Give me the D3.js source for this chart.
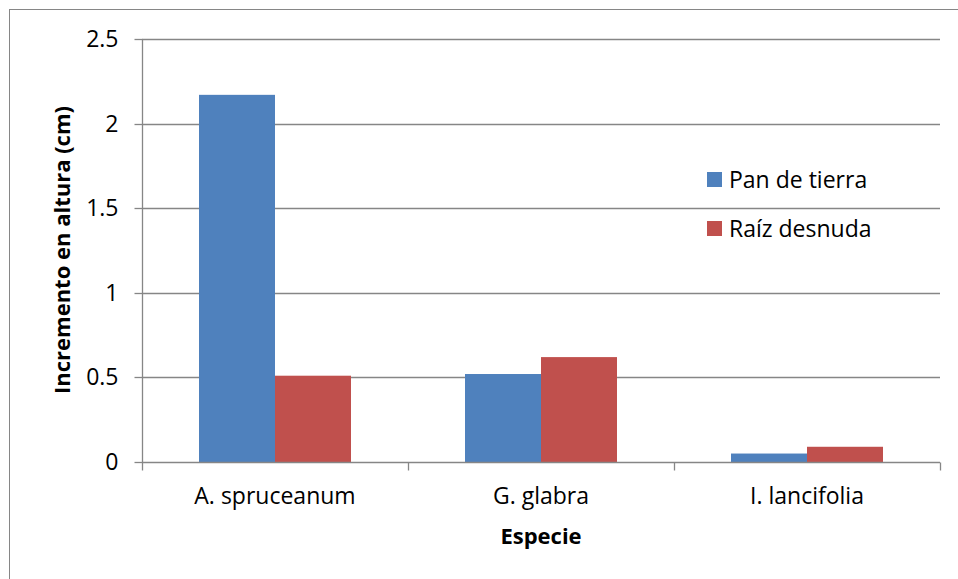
<!DOCTYPE html>
<html><head><meta charset="utf-8">
<script src="https://cdn.jsdelivr.net/npm/d3@7"></script>
<style>body{margin:0;background:#fff}svg{display:block}text{font-family:"Open Sans",sans-serif;fill:#000}</style>
</head><body>
<svg id="c" width="958" height="579"></svg>
<script>
const categories = ["A. spruceanum", "G. glabra", "I. lancifolia"];
const seriesNames = ["Pan de tierra", "Raíz desnuda"];
const panDeTierra = [2.17, 0.52, 0.05];
const raizDesnuda = [0.51, 0.62, 0.09];
const yTicks = [0, 0.5, 1, 1.5, 2, 2.5];
const colors = ["#4F81BD", "#C0504D"];

const svg = d3.select("#c");
const L = 142, R = 940, T = 39, B = 462;
const FS = "23px";

svg.append("rect").attr("x", 9.5).attr("y", 9.5).attr("width", 1000).attr("height", 1000)
  .attr("fill", "none").attr("stroke", "#868686").attr("stroke-width", 1);

const x = d3.scaleBand().domain(categories).range([L, R]).paddingInner(0).paddingOuter(0);
const xs = d3.scaleBand().domain(seriesNames).range([0, x.bandwidth()]).paddingInner(0).paddingOuter(0.75);
const y = d3.scaleLinear().domain([0, 2.5]).range([B, T]);

// gridlines
svg.append("g").selectAll("line").data(yTicks.filter(d => d > 0)).join("line")
  .attr("x1", L).attr("x2", R).attr("y1", d => Math.round(y(d)) + 0.5).attr("y2", d => Math.round(y(d)) + 0.5)
  .attr("stroke", "#868686").attr("stroke-width", 1.3);

// bars
const data = categories.map((c, i) => ({c, vals: [panDeTierra[i], raizDesnuda[i]]}));
const g = svg.append("g");
data.forEach(d => {
  d.vals.forEach((v, j) => {
    g.append("rect").attr("x", x(d.c) + xs(seriesNames[j])).attr("width", xs.bandwidth())
      .attr("y", y(v)).attr("height", B - y(v)).attr("fill", colors[j]);
  });
});

// y axis
const yAxis = d3.axisLeft(y).tickValues(yTicks).tickSize(8).tickPadding(16).tickFormat(d => String(d));
const ya = svg.append("g").attr("transform", `translate(${L + 0.5},0)`).call(yAxis);
ya.select(".domain").attr("stroke", "#868686").attr("stroke-width", 1.3).attr("d", `M0,${T}V${B}`);
ya.selectAll(".tick line").attr("stroke", "#868686").attr("stroke-width", 1.3);
ya.selectAll(".tick").attr("transform", d => `translate(0,${Math.round(y(d)) + 0.5})`);
ya.selectAll(".tick text").style("font-size", FS).style("font-family", "'Open Sans',sans-serif").attr("fill", "#000");

// x axis
const xa = svg.append("g").attr("transform", `translate(0,${B + 0.5})`);
xa.append("line").attr("x1", L).attr("x2", R).attr("stroke", "#868686").attr("stroke-width", 1.3);
xa.selectAll(".xt").data(d3.range(categories.length + 1)).join("line")
  .attr("x1", i => L + 0.5 + i * x.step()).attr("x2", i => L + 0.5 + i * x.step())
  .attr("y1", 0).attr("y2", 8).attr("stroke", "#868686").attr("stroke-width", 1.3);
xa.selectAll(".xl").data(categories).join("text")
  .attr("x", d => x(d) + x.bandwidth() / 2).attr("y", 41.5).attr("text-anchor", "middle")
  .style("font-size", FS).text(d => d);

// axis titles
svg.append("text").attr("x", L + (R - L) / 2).attr("y", 544).attr("text-anchor", "middle")
  .style("font-size", "22px").style("font-weight", "bold").text("Especie");
svg.append("text").attr("transform", `translate(70,250) rotate(-90)`).attr("text-anchor", "middle")
  .style("font-size", "22px").style("font-weight", "bold").text("Incremento en altura (cm)");

// legend
const lg = svg.append("g");
seriesNames.forEach((s, i) => {
  const yy = 172 + i * 49;
  lg.append("rect").attr("x", 707).attr("y", yy).attr("width", 15).attr("height", 15).attr("fill", colors[i]);
  lg.append("text").attr("x", 729).attr("y", yy + 15.5).style("font-size", FS).text(s);
});
</script>
</body></html>
